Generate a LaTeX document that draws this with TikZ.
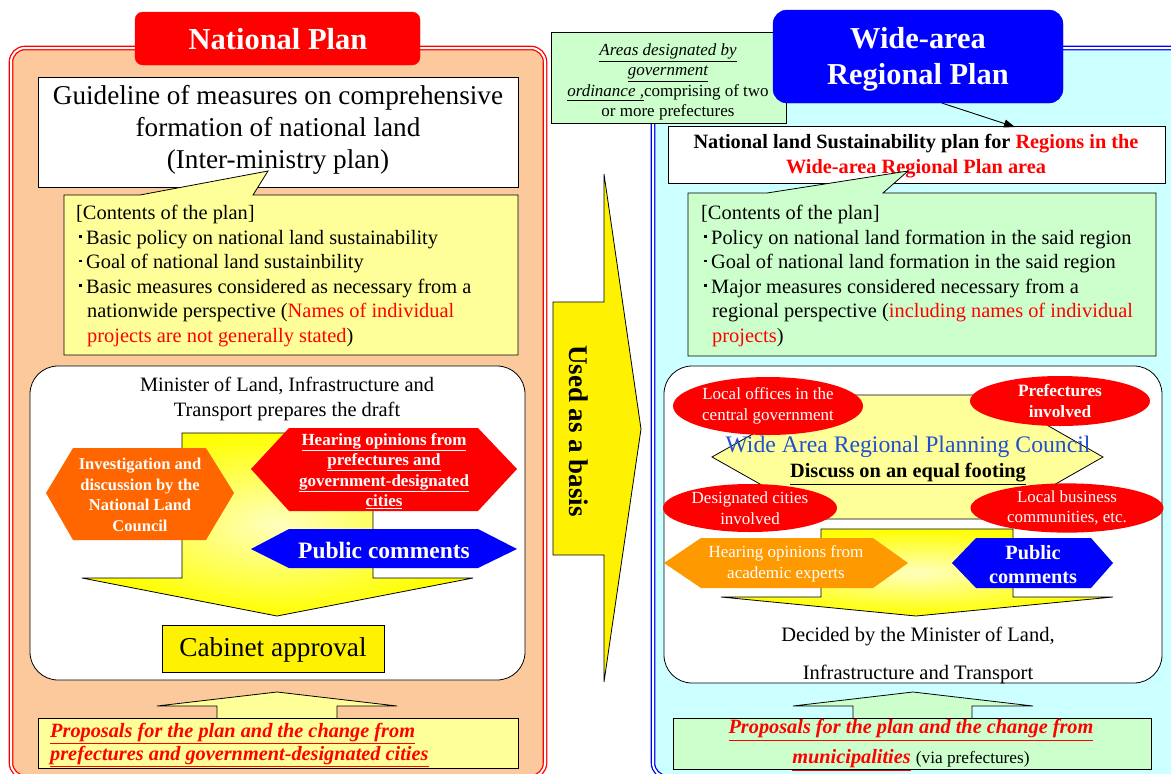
\documentclass[tikz,border=0pt]{standalone}
\usepackage{fontspec}
\setmainfont{Liberation Serif}
\usepackage{xcolor}
\usetikzlibrary{arrows.meta,positioning,calc,shapes.geometric}

\definecolor{peach}{HTML}{FBC99B}
\definecolor{paleyellow}{HTML}{FFFF99}
\definecolor{palegreen}{HTML}{CCFFCC}
\definecolor{palecyan}{HTML}{CCFFFF}
\definecolor{deeporange}{HTML}{FF6600}
\definecolor{amber}{HTML}{FF9900}
\definecolor{councilblue}{HTML}{2050D0}

\newcommand{\bul}{\hspace*{3pt}\raisebox{0.3em}{\rule{2.5pt}{2.5pt}}\hspace*{4.5pt}}
\newcommand{\fsz}[2]{\fontsize{#1}{#2}\selectfont}

\begin{document}
\begin{tikzpicture}[x=1pt, y=-1pt,
  plain/.style={inner sep=0pt, align=center},
  body/.style={inner sep=0pt, align=left, font=\fsz{20.4}{24.5}},
  tabtext/.style={inner sep=0pt, align=center, text=white, font=\fsz{30.4}{36}\bfseries},
  outline/.style={draw=black, line width=0.8pt},
  redoval/.style={ellipse, fill=red, text=white, inner sep=0pt, align=center, font=\fsz{17}{20.5}},
  bigarrow/.style={draw=black, line width=0.8pt, shading=radial, inner color=yellow!25, outer color=yellow},
  proposal/.style={inner sep=0pt, text=red, font=\fsz{20.3}{23}\bfseries\itshape}]

  \useasboundingbox (0,0) rectangle (1171,774);

  % Left panel: national plan
  \path[fill=peach, draw=red, line width=1.3pt, double=white, double distance=2pt, rounded corners=14pt]
    (11,48) rectangle (545,777);
  \filldraw[red, rounded corners=8pt] (135,12) rectangle (420,65);
  \node[tabtext, font=\fsz{30.5}{34}\bfseries] (tabL) at (278,39) {National Plan};

  \draw[outline, fill=white] (38,77) rectangle (518,187);
  \node[plain, font=\fsz{27.2}{32}] (guide) at (278,130)
    {Guideline of measures on comprehensive\\formation of national land\\(Inter-ministry plan)};

  % Callout with contents of the national plan
  \draw[outline, fill=paleyellow] (64,195) -- (140,195) -- (268,171) -- (253,195) -- (518,195)
    -- (518,355) -- (64,355) -- cycle;
  \node[body, anchor=north west] (contL) at (76,205)
    {[Contents of the plan]\\
     \bul Basic policy on national land sustainability\\
     \bul Goal of national land sustainbility\\
     \bul Basic measures considered as necessary from a\\
     \hspace*{11pt}nationwide perspective (\textcolor{red}{Names of individual}\\
     \hspace*{11pt}\textcolor{red}{projects are not generally stated})};

  % Drafting procedure
  \draw[outline, fill=white, rounded corners=28pt] (30,366) rectangle (525,680);
  \node[plain, font=\fsz{20.4}{25}] (draftL) at (287,399)
    {Minister of Land, Infrastructure and\\Transport prepares the draft};
  \path[bigarrow] (182,433) -- (373,433) -- (373,578) -- (473,578) -- (277,616)
    -- (82,578) -- (182,578) -- cycle;

  \fill[deeporange] (46,493) -- (73,448) -- (206,448) -- (234,493) -- (206,540) -- (73,540) -- cycle;
  \node[plain, text=white, font=\fsz{16.5}{20.5}\bfseries] (council) at (140,495)
    {Investigation and\\discussion by the\\National Land\\Council};
  \fill[red] (251,469) -- (289,428) -- (478,428) -- (517,469) -- (478,511) -- (289,511) -- cycle;
  \node[plain, text=white, font=\fsz{17}{20.5}\bfseries] (hearL) at (384,471)
    {\underline{Hearing opinions from}\\\underline{prefectures and}\\\underline{government-designated}\\\underline{cities}};
  \fill[blue] (251,549) -- (289,529) -- (478,529) -- (517,549) -- (478,568) -- (289,568) -- cycle;
  \node[plain, text=white, font=\fsz{23.5}{25}\bfseries] (pubL) at (384,550) {Public comments};

  \draw[outline, fill=yellow] (162,625) rectangle (384,672);
  \node[plain, font=\fsz{27.3}{30}] (cabinet) at (273,650) {Cabinet approval};

  % Proposals from prefectures
  \draw[outline, fill=paleyellow] (217,718) -- (217,706) -- (157,706) -- (277,692) -- (397,706)
    -- (337,706) -- (337,718);
  \draw[outline, fill=paleyellow] (38,718) rectangle (518,768);
  \node[proposal, anchor=west, align=left] (propL) at (50,745)
    {\underline{Proposals for the plan and the change from}\\
     \underline{prefectures and government-designated cities}};

  % Right panel: wide-area regional plan
  \path[fill=palecyan, draw=blue, line width=1.3pt, double=white, double distance=2pt, rounded corners=14pt]
    (653,48) rectangle (1190,777);
  \draw[outline, fill=palegreen] (551,32) rectangle (786,123);
  \node[plain, font=\fsz{17}{20.3}] (areas) at (668,82)
    {\textit{\underline{Areas designated by}}\\\textit{\underline{government}}\\
     \textit{\underline{ordinance ,}}comprising of two\\or more prefectures};
  \filldraw[blue, rounded corners=14pt] (773,10) rectangle (1063,103);
  \node[tabtext] (tabR) at (918,59) {Wide-area\\Regional Plan};

  \draw[outline, fill=white] (668,126) rectangle (1165,183);
  \node[plain, font=\fsz{20.3}{25}\bfseries] (sustR) at (916,156)
    {National land Sustainability plan for \textcolor{red}{Regions in the}\\
     \textcolor{red}{Wide-area Regional Plan area}};
  \coordinate (tabfoot) at ($(tabR.south)+(24,12)$);
  \coordinate (susthead) at (1015,127);
  \draw[line width=0.9pt, -{Triangle[length=11pt, width=8pt]}] (tabfoot) -- (susthead);

  % Callout with contents of the regional plan
  \draw[outline, fill=palegreen] (688,193) -- (767,193) -- (908,171) -- (883,193) -- (1156,193)
    -- (1156,356) -- (688,356) -- cycle;
  \node[body, anchor=north west] (contR) at (701,205)
    {[Contents of the plan]\\
     \bul Policy on national land formation in the said region\\
     \bul Goal of national land formation in the said region\\
     \bul Major measures considered necessary from a\\
     \hspace*{11pt}regional perspective (\textcolor{red}{including names of individual}\\
     \hspace*{11pt}\textcolor{red}{projects})};

  % Council procedure
  \draw[outline, fill=white, rounded corners=28pt] (664,366) rectangle (1162,683);
  \draw[outline, fill=paleyellow] (712,457) -- (822,395) -- (994,395) -- (1103,457) -- (994,519)
    -- (822,519) -- cycle;
  \node[redoval, minimum width=190pt, minimum height=58pt] (localgov) at (768,406)
    {Local offices in the\\central government};
  \node[redoval, minimum width=180pt, minimum height=50pt, font=\fsz{17.3}{21}\bfseries] (prefs) at (1060,401)
    {Prefectures\\involved};
  \node[redoval, minimum width=174pt, minimum height=48pt] (cities) at (750,508)
    {Designated cities\\involved};
  \node[redoval, minimum width=193pt, minimum height=48pt, font=\fsz{16.9}{20.5}] (business) at (1067,508)
    {Local business\\communities, etc.};
  \node[plain, text=councilblue, font=\fsz{23.7}{26}] (widecouncil) at (908,447)
    {Wide Area Regional Planning Council};
  \node[plain, font=\fsz{20.3}{20}\bfseries] (equal) at (908,474) {\underline{Discuss on an equal footing}};

  \path[bigarrow] (821,529) -- (1013,529) -- (1013,597) -- (1113,597) -- (916,616)
    -- (721,597) -- (821,597) -- cycle;
  \fill[amber] (664,563) -- (701,538) -- (873,538) -- (908,563) -- (873,588) -- (701,588) -- cycle;
  \node[plain, text=white, font=\fsz{17}{21}] (experts) at (786,564)
    {Hearing opinions from\\academic experts};
  \fill[blue] (952,563) -- (976,538) -- (1091,538) -- (1113,563) -- (1091,588) -- (976,588) -- cycle;
  \node[plain, text=white, font=\fsz{20.3}{24}\bfseries] (pubR) at (1033,565) {Public\\comments};
  \node[plain, font=\fsz{20.5}{38}] (decided) at (918,655)
    {Decided by the Minister of Land,\\Infrastructure and Transport};

  % Proposals from municipalities
  \draw[outline, fill=palegreen] (853,718) -- (853,706) -- (793,706) -- (913,692) -- (1033,706)
    -- (972,706) -- (972,718);
  \draw[outline, fill=palegreen] (673,718) rectangle (1151,769);
  \node[proposal, align=center, font=\fsz{20.3}{30}\bfseries\itshape] (propR) at (911,745)
    {\underline{Proposals for the plan and the change from}\\
     \underline{municipalities} {\normalfont\color{black}\fsz{17.3}{30}(via prefectures)}};

  % Link between the two plans
  \draw[outline, fill=yellow] (553,302) -- (604,302) -- (604,174) -- (641,429) -- (604,682)
    -- (604,555) -- (553,555) -- cycle;
  \node[plain, rotate=-90, font=\fsz{27}{28}\bfseries] (basis) at (579,431) {Used as a basis};
\end{tikzpicture}
\end{document}
